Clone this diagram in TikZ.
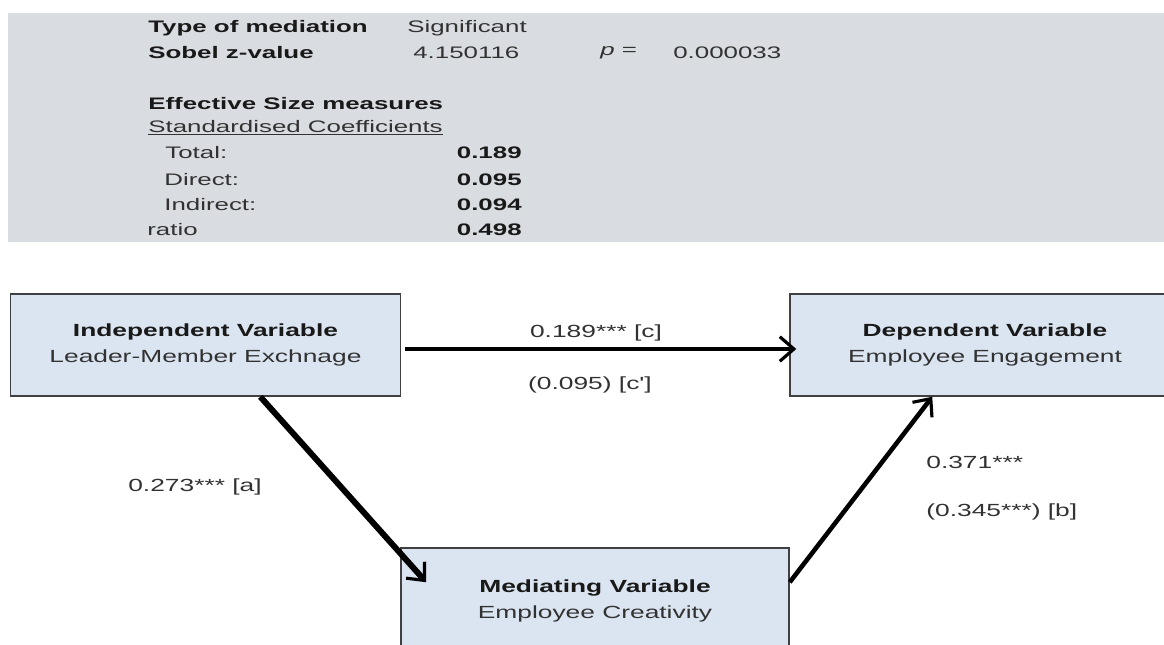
\documentclass[tikz,border=0pt]{standalone}
\usepackage{fontspec}
\setmainfont{Liberation Sans}
\newfontfamily\tabfont{Liberation Sans}[FakeStretch=1.55]
\newfontfamily\diagfont{Liberation Sans}[FakeStretch=1.5]
\usetikzlibrary{arrows.meta,calc,positioning}

\definecolor{tablegray}{RGB}{217,220,225}
\definecolor{boxblue}{RGB}{219,229,241}
\definecolor{txtgray}{RGB}{50,50,50}

\tikzset{
  tabkey/.style={anchor=west, inner sep=0pt, text=black!90,
    font=\tabfont\fontsize{9.5}{11}\selectfont\bfseries},
  tabval/.style={anchor=west, inner sep=0pt, text=txtgray,
    font=\tabfont\fontsize{9.5}{11}\selectfont},
  tabnum/.style={anchor=east, inner sep=0pt, text=black!90,
    font=\tabfont\fontsize{9.5}{11}\selectfont\bfseries},
  varbox/.style={draw=black!75, line width=0.9pt, fill=boxblue, align=center,
    minimum width=7.8cm, minimum height=2.04cm, text=txtgray,
    font=\diagfont\fontsize{10}{14.8}\selectfont},
  pathlbl/.style={inner sep=0pt, text=txtgray,
    font=\diagfont\fontsize{10}{12}\selectfont},
  effarrow/.style={line width=#1,
    -{Straight Barb[length=8pt,width=14pt,line width=1.8pt]}}
}

\begin{document}
\begin{tikzpicture}[x=0.02cm,y=-0.02cm]
  \useasboundingbox (0,0) rectangle (1164,645);

  % Draw table background
  \fill[tablegray] (8,13) rectangle (1164,242);
  \node[tabkey] (typ) at (148,28) {Type of mediation};
  \node[tabval] (sig) at (407,28) {Significant};
  \node[tabkey] (sob) at (148,53) {Sobel z-value};
  \node[tabval] (zval) at (413,53) {4.150116};
  \node[tabval] (peq) at (600,53) {\textit{p} =};
  \node[tabval] (pval) at (673,53) {0.000033};
  \node[tabkey] (eff) at (148,104) {Effective Size measures};
  \node[tabval] (std) at (148,128) {\underline{Standardised Coefficients}};
  \foreach \lab/\val/\xx/\yy in {Total:/0.189/165/153, Direct:/0.095/164/180,
                                 Indirect:/0.094/164/205, ratio/0.498/147/230}
      {
          \node[tabval] (lab\yy) at (\xx,\yy) {\lab};
          \node[tabnum] (val\yy) at (522,\yy) {\val};
      }

  % Variables
  \node[varbox] (ind) at (205.5,345)
      {\textbf{\color{black!90}Independent Variable}\\Leader-Member Exchnage};
  \node[varbox] (dep) at (985,345)
      {\textbf{\color{black!90}Dependent Variable}\\Employee Engagement};
  \node[varbox, minimum width=7.76cm, minimum height=2.1cm] (med) at (595,600.5)
      {\textbf{\color{black!90}Mediating Variable}\\Employee Creativity};

  % Paths
  \coordinate (aStart) at ($(ind.south west)!0.64!(ind.south east)$);
  \coordinate (aEnd) at ($(med.north west)+(26,35)$);
  \coordinate (bStart) at ($(med.north east)+(0,35)$);
  \coordinate (bEnd) at ($(dep.south west)+(143,0)$);
  \coordinate (cStart) at ($(ind.east)+(4,4)$);
  \coordinate (cEnd) at ($(dep.west)+(7,4)$);
  \draw[effarrow=3.4pt] (aStart) -- (aEnd);
  \draw[effarrow=2.6pt] (bStart) -- (bEnd);
  \draw[effarrow=2.4pt] (cStart) -- (cEnd);

  \node[pathlbl] (lblc) at (596,333) {0.189*** [c]};
  \node[pathlbl] (lblcd) at (590,385) {(0.095) [c']};
  \node[pathlbl] (lbla) at (195,487) {0.273*** [a]};
  \node[pathlbl, anchor=west] (lblb) at (926,462) {0.371***};
  \node[pathlbl, anchor=west] (lblbd) at (926,512) {(0.345***) [b]};
\end{tikzpicture}
\end{document}
